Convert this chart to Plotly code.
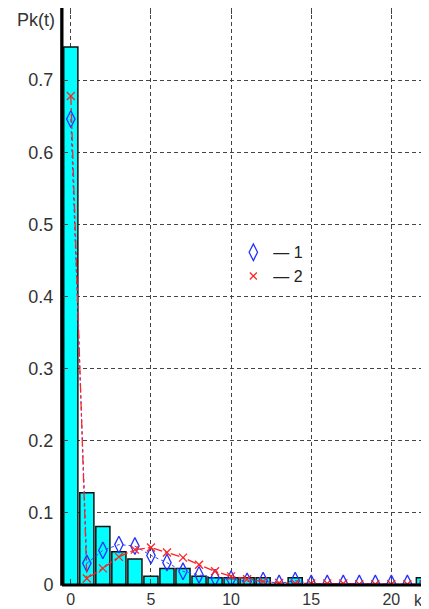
import plotly.graph_objects as go

k = list(range(0, 23))
bars = [0.746, 0.128, 0.081, 0.046, 0.036, 0.012, 0.023, 0.023, 0.012, 0.010,
        0.010, 0.010, 0.010, 0.0, 0.010, 0.0, 0.0, 0.0, 0.0, 0.0, 0.0, 0.0, 0.010]
series1 = [0.646, 0.030, 0.048, 0.056, 0.054, 0.041, 0.031, 0.019, 0.014, 0.010,
           0.008, 0.005, 0.006, 0.002, 0.006, 0.002, 0.002, 0.002, 0.002, 0.002, 0.002, 0.002, 0.001]
series2 = [0.678, 0.009, 0.023, 0.039, 0.049, 0.052, 0.045, 0.038, 0.028, 0.019,
           0.012, 0.008, 0.005, 0.003, 0.002, 0.002, 0.002, 0.002, 0.001, 0.001, 0.001, 0.001, 0.001]
xticks = [0, 5, 10, 15, 20]
yticks = [0, 0.1, 0.2, 0.3, 0.4, 0.5, 0.6, 0.7]
ytick_text = ["0", "0.1", "0.2", "0.3", "0.4", "0.5", "0.6", "0.7"]

FONT = "Liberation Sans, Arial, sans-serif"

fig = go.Figure()
fig.add_trace(go.Bar(x=k, y=bars, marker=dict(color="#00FFFF", line=dict(color="#111", width=1.5)),
                     showlegend=False))
fig.add_trace(go.Scatter(x=k, y=series1, mode="markers+lines",
                         line=dict(color="#3344ff", width=1, dash="dot"),
                         marker=dict(symbol="diamond-tall-open", size=12, color="#2233ff", line=dict(width=1.3)),
                         showlegend=False))
fig.add_trace(go.Scatter(x=k, y=series2, mode="markers+lines",
                         line=dict(color="#ff2222", width=1.3, dash="dashdot"),
                         marker=dict(symbol="x-thin-open", size=8, color="#ff2222", line=dict(width=1.3, color="#ff2222")),
                         showlegend=False))
# legend entries
fig.add_trace(go.Scatter(x=[None], y=[None], mode="markers", name="— 1",
                         marker=dict(symbol="diamond-tall-open", size=12, color="#2233ff", line=dict(width=1.3))))
fig.add_trace(go.Scatter(x=[None], y=[None], mode="markers", name="— 2",
                         marker=dict(symbol="x-thin-open", size=7, color="#ff2222", line=dict(width=1.3, color="#ff2222"))))

fig.update_layout(
    width=429, height=609,
    margin=dict(l=54, r=12, t=0, b=32, autoexpand=False),
    paper_bgcolor="white", plot_bgcolor="white",
    bargap=0.12,
    font=dict(family=FONT, size=18, color="#333"),
    legend=dict(x=0.472, y=0.606, xanchor="left", yanchor="top", bgcolor="rgba(0,0,0,0)",
                font=dict(size=16, color="#222"), itemwidth=30, tracegroupgap=0),
    xaxis=dict(range=[-0.55, 22.1], tickvals=xticks, ticktext=[str(v) for v in xticks],
               automargin=False, tickfont=dict(size=16),
               showgrid=True, gridcolor="#444", griddash="4px,3px", gridwidth=1,
               zeroline=False, showline=True, linecolor="#666", linewidth=1, mirror="ticks",
               ticks="inside", ticklen=6, tickcolor="#444", ticklabelstandoff=0),
    yaxis=dict(range=[0, 0.8], tickvals=yticks, ticktext=ytick_text, automargin=False,
               showgrid=True, gridcolor="#444", griddash="4px,3px", gridwidth=1,
               zeroline=False, showline=True, linecolor="#666", linewidth=2, mirror="ticks",
               ticks="inside", ticklen=6, tickcolor="#444", ticklabelstandoff=3),
    shapes=[
        dict(type="line", xref="paper", yref="paper", x0=0, x1=0, y0=0, y1=1,
             line=dict(color="black", width=3)),
        dict(type="line", xref="paper", yref="paper", x0=0, x1=1, y0=0, y1=0,
             line=dict(color="black", width=3)),
    ],
    annotations=[
        dict(text="Pk(t)", xref="paper", yref="paper", x=-0.014, y=1.0, xanchor="right", yanchor="top",
             showarrow=False, font=dict(size=18, color="#333")),
        dict(text="k", xref="paper", yref="paper", x=0.982, y=-0.026, xanchor="center", yanchor="middle",
             showarrow=False, font=dict(size=16, color="#333")),
    ],
)
fig.write_html("out.html")
